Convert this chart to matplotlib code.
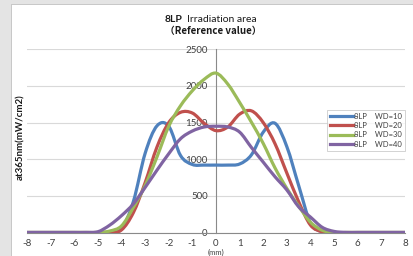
import numpy as np
import matplotlib
matplotlib.use("Agg")
import matplotlib.pyplot as plt
from matplotlib.path import Path
from matplotlib.patches import PathPatch, Rectangle
from matplotlib.lines import Line2D

plt.rcParams["font.family"] = ["Lato", "DejaVu Sans"]
plt.rcParams["axes.unicode_minus"] = False

# ------------------------------------------------------------
# Data (0.5 mm steps)
# ------------------------------------------------------------
pos_mm = np.arange(-8, 8.01, 0.5)

wd10 = [0, 0, 0, 0, 0, 0, 0, 0,
        50, 420, 1080, 1455, 1450, 1050, 928, 920, 920, 920, 935,
        1060, 1370, 1490, 1170, 640, 130, 10,
        0, 0, 0, 0, 0, 0, 0]
wd20 = [0, 0, 0, 0, 0, 0, 0, 5,
        35, 270, 680, 1165, 1500, 1640, 1630, 1490, 1390, 1440, 1615,
        1660, 1500, 1210, 810, 420, 100, 10,
        0, 0, 0, 0, 0, 0, 0]
wd30 = [0, 0, 0, 0, 0, 0, 0,
        20, 90, 340, 640, 1030, 1450, 1730, 1935, 2090, 2175, 2025, 1775,
        1505, 1215, 880, 600, 360, 140, 30,
        0, 0, 0, 0, 0, 0, 0]
wd40 = [0, 0, 0, 0, 0, 0,
        10, 100, 230, 390, 615, 850, 1075, 1280, 1385, 1440, 1450, 1440, 1370,
        1160, 960, 760, 580, 350, 210, 70, 15,
        0, 0, 0, 0, 0, 0]

series = [wd10, wd20, wd30, wd40]
labels = ["8LP    WD=10", "8LP    WD=20", "8LP    WD=30", "8LP    WD=40"]
colors = ["#4F81BD", "#C0504D", "#9BBB59", "#8064A2"]


def smooth_path(x, y):
    # Excel-style smoothed line: cubic bezier through every point
    x = np.asarray(x, float)
    y = np.asarray(y, float)
    pts = np.column_stack([x, y])
    verts = [pts[0]]
    codes = [Path.MOVETO]
    n = len(pts)
    for i in range(n - 1):
        p0 = pts[max(i - 1, 0)]
        p1 = pts[i]
        p2 = pts[i + 1]
        p3 = pts[min(i + 2, n - 1)]
        c1 = p1 + (p2 - p0) / 6.0
        c2 = p2 - (p3 - p1) / 6.0
        verts += [c1, c2, p2]
        codes += [Path.CURVE4] * 3
    return Path(verts, codes)


# ------------------------------------------------------------
# Figure
# ------------------------------------------------------------
fig = plt.figure(figsize=(4.14, 2.56), dpi=100)
fig.patch.set_facecolor("white")

# grey frame strips of the spreadsheet window
fig.add_artist(Rectangle((0, 0), 11 / 414, 1, transform=fig.transFigure,
                         facecolor="#e4e4e4", edgecolor="none"))
fig.add_artist(Rectangle((11 / 414, 0), 1.5 / 414, 1, transform=fig.transFigure,
                         facecolor="#c8c8c8", edgecolor="none"))
fig.add_artist(Rectangle((0, 1 - 4 / 256), 1, 4 / 256, transform=fig.transFigure,
                         facecolor="#e4e4e4", edgecolor="none"))
fig.add_artist(Rectangle((11 / 414, 1 - 5 / 256), 1, 1 / 256, transform=fig.transFigure,
                         facecolor="#c8c8c8", edgecolor="none"))

ax = fig.add_axes([27 / 414, 23.5 / 256, 378 / 414, 183.2 / 256])
ax.set_xlim(-8, 8)
ax.set_ylim(0, 2500)

for vals, c in zip(series, colors):
    ax.add_patch(PathPatch(smooth_path(pos_mm, vals), facecolor="none",
                           edgecolor=c, lw=2.3, capstyle="round", zorder=3))

ax.set_yticks(np.arange(0, 2501, 500))
ax.set_xticks(np.arange(-8, 9, 1))
ax.grid(axis="y", color="#d9d9d9", lw=0.8)
ax.set_axisbelow(True)

for s in ["top", "right"]:
    ax.spines[s].set_visible(False)
ax.spines["left"].set_position(("data", 0))
ax.spines["left"].set_color("#8a8a8a")
ax.spines["bottom"].set_color("#8a8a8a")
ax.tick_params(axis="y", length=0, pad=6, labelsize=7, labelcolor="#404040")
ax.tick_params(axis="x", length=0, pad=4.5, labelsize=7, labelcolor="#404040")

handles = [Line2D([], [], color=c, lw=2.3) for c in colors]
leg = ax.legend(handles, labels, loc="upper right", bbox_to_anchor=(1.0, 0.67),
                fontsize=5.5, frameon=True, fancybox=False, handlelength=3.0,
                handletextpad=0.1, borderpad=0.4, labelspacing=0.3,
                borderaxespad=0)
leg.get_frame().set_edgecolor("#bfbfbf")
leg.get_frame().set_linewidth(0.6)
for t in leg.get_texts():
    t.set_color("#404040")

# titles and axis labels
fig.text(183 / 414, 1 - 19 / 256, "8LP", fontsize=7.5, fontweight="bold",
         ha="right", va="center", color="#1a1a1a")
fig.text(187 / 414, 1 - 19 / 256, "Irradiation area", fontsize=7.5,
         ha="left", va="center", color="#1a1a1a")
fig.text(213 / 414, 1 - 31 / 256, "\uff08Reference value\uff09", fontsize=7,
         fontweight="bold", ha="center", va="center", color="#1a1a1a",
         family=["Noto Sans CJK JP", "DejaVu Sans"])
fig.text(21 / 414, 1 - 137 / 256, "at365nm(mW/cm2)", fontsize=7,
         fontweight="bold", rotation=90, ha="center", va="center",
         color="#1a1a1a")
fig.text(216 / 414, 0.3 / 256, "(mm)", fontsize=5.5, ha="center",
         va="bottom", color="#404040")

fig.savefig("out.png", dpi=100)
